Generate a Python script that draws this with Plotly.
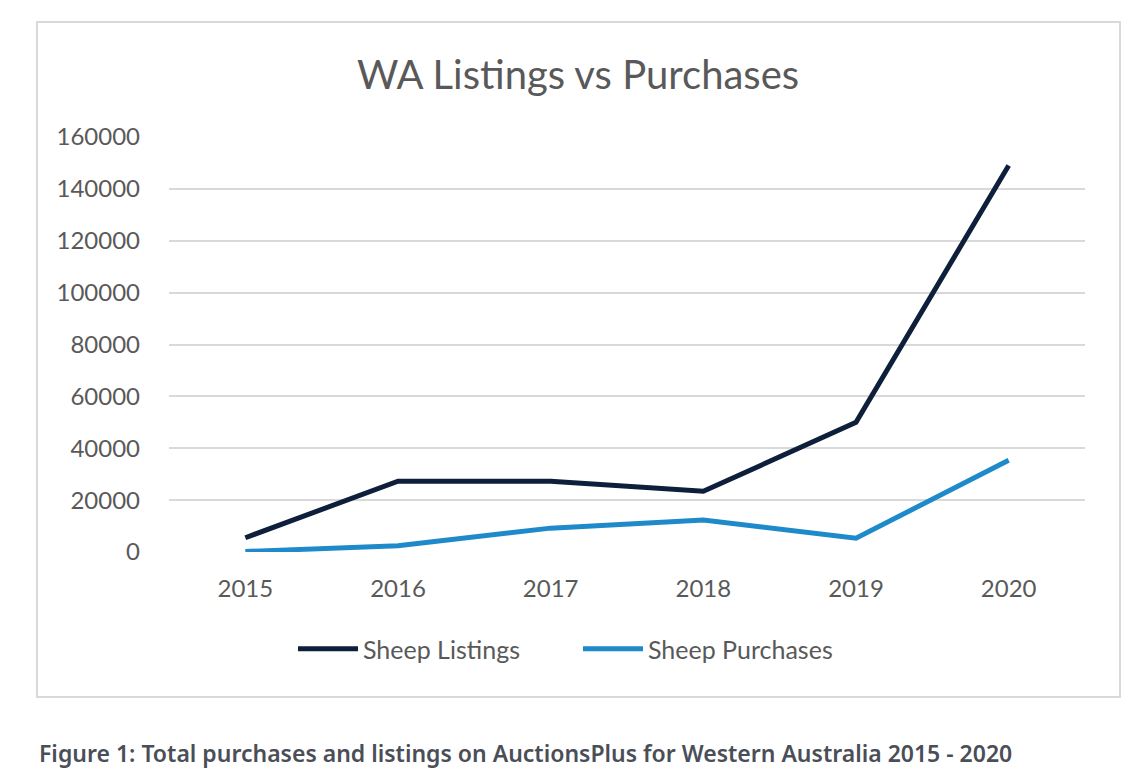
import plotly.graph_objects as go

years = ["2015", "2016", "2017", "2018", "2019", "2020"]
sheep_listings = [5500, 27300, 27300, 23400, 50000, 149000]
sheep_purchases = [200, 2400, 9200, 12300, 5300, 35400]
y_ticks = [0, 20000, 40000, 60000, 80000, 100000, 120000, 140000, 160000]

W, H = 1146, 783
L, R = 169, 1085   # plot area px
T, B = 137, 552

def px_x(x):
    return (x - L) / (R - L)

def px_y(y):
    return (B - y) / (B - T)

fig = go.Figure()
fig.add_trace(go.Scatter(x=years, y=sheep_listings, mode="lines", name="Sheep Listings",
                         line=dict(color="#0d1f3a", width=5)))
fig.add_trace(go.Scatter(x=years, y=sheep_purchases, mode="lines", name="Sheep Purchases",
                         line=dict(color="#1f8ac9", width=5)))

fig.update_layout(
    width=W, height=H,
    margin=dict(l=L, r=W - R, t=T, b=H - B),
    paper_bgcolor="white", plot_bgcolor="white",
    font=dict(family="Lato", color="#595959", size=24),
    title=dict(text="WA Listings vs Purchases", x=px_x(578), xref="paper", xanchor="center",
               y=1 - 75 / H, yref="container", yanchor="middle",
               font=dict(family="Lato", size=40, color="#595959")),
    xaxis=dict(type="category", range=[-0.5, 5.5], showgrid=False, showline=False,
               zeroline=False, ticks="", ticklabelstandoff=20,
               tickfont=dict(size=24, color="#595959")),
    yaxis=dict(range=[0, 160000], tickvals=y_ticks, ticktext=[str(v) for v in y_ticks],
               showgrid=True, gridcolor="#d9d9d9", gridwidth=1.5, zeroline=False,
               showline=False, ticks="", ticklabelstandoff=28,
               tickfont=dict(size=24, color="#595959")),
    legend=dict(orientation="h", x=px_x(578), xanchor="center", y=px_y(649), yanchor="middle",
                font=dict(size=25, color="#595959"), itemwidth=60, entrywidth=210,
                traceorder="normal", bgcolor="rgba(0,0,0,0)"),
    showlegend=True,
)

fig.add_shape(type="rect", xref="paper", yref="paper",
              x0=px_x(37), x1=px_x(1120), y0=px_y(697), y1=px_y(22),
              line=dict(color="#d9d9d9", width=2), fillcolor="rgba(0,0,0,0)", layer="below")

fig.add_annotation(text="Figure 1: Total purchases and listings on AuctionsPlus for Western Australia 2015 - 2020",
                   xref="paper", yref="paper", x=px_x(37), y=px_y(753), xanchor="left", yanchor="middle",
                   showarrow=False, font=dict(family="Noto Sans", size=23, color="#4a4e57", weight=600))

fig.write_html("out.html")
